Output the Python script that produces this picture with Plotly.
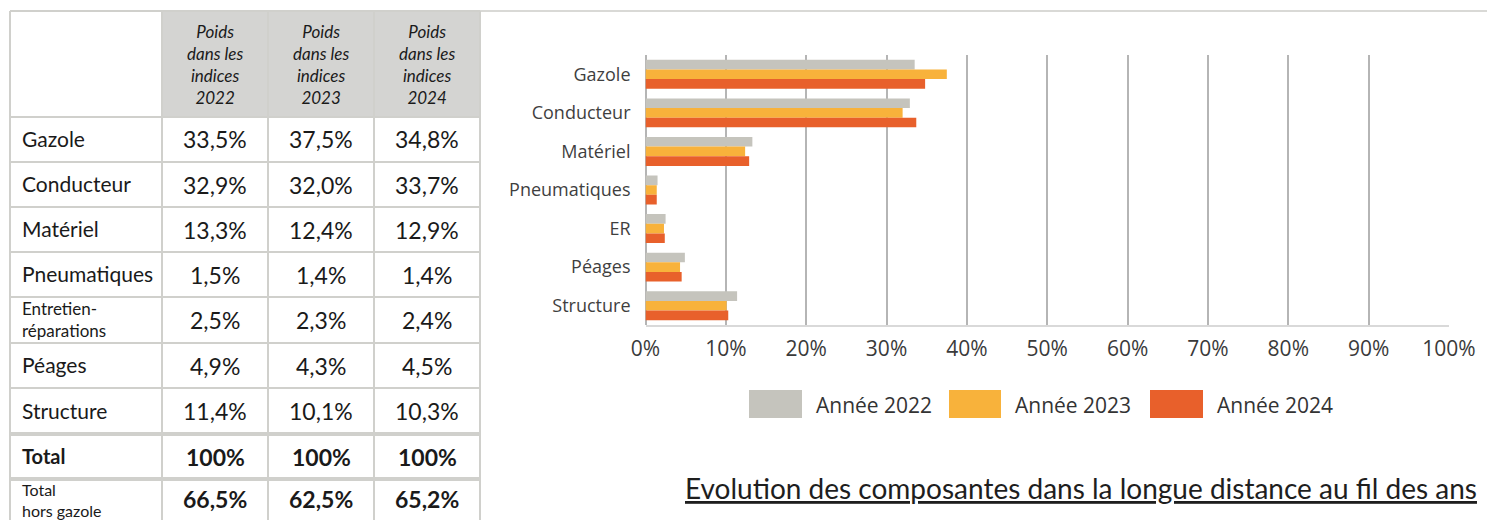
import plotly.graph_objects as go

W, H = 1487, 520

# ---------------- data ----------------
chart_categories = ["Gazole", "Conducteur", "Matériel", "Pneumatiques", "ER", "Péages", "Structure"]
table_rows = ["Gazole", "Conducteur", "Matériel", "Pneumatiques", "Entretien-<br>réparations", "Péages", "Structure"]
years = ["2022", "2023", "2024"]
w2022 = [33.5, 32.9, 13.3, 1.5, 2.5, 4.9, 11.4]
w2023 = [37.5, 32.0, 12.4, 1.4, 2.3, 4.3, 10.1]
w2024 = [34.8, 33.7, 12.9, 1.4, 2.4, 4.5, 10.3]
totals = [100, 100, 100]
hors_gazole = [66.5, 62.5, 65.2]
series_names = ["Année 2022", "Année 2023", "Année 2024"]
x_tick_values = [0, 10, 20, 30, 40, 50, 60, 70, 80, 90, 100]
x_tick_labels = ["0%", "10%", "20%", "30%", "40%", "50%", "60%", "70%", "80%", "90%", "100%"]
header_lines = ["Poids", "dans les", "indices"]
title_text = "Evolution des composantes dans la longue distance au fil des ans"

# ---------------- styles ----------------
colors = ["#c5c4bd", "#f8b23b", "#e8602b"]
TABLE_FONT = "Lato"
CHART_FONT = "Open Sans"
LINE_COL = "#d0d0cc"
HEAD_FILL = "#d4d4d2"
TXT = "#1a1a1a"


def px(x):
    return x / W


def py(y):
    return 1 - y / H


fig = go.Figure()

# ---------------- bar chart ----------------
for name, vals, col in zip(series_names, [w2022, w2023, w2024], colors):
    fig.add_trace(go.Bar(
        y=chart_categories, x=vals, name=name, orientation="h",
        marker=dict(color=col, line=dict(width=0)),
        showlegend=False, hoverinfo="x+y+name",
    ))

fig.update_layout(
    template="none",
    width=W, height=H, autosize=False,
    margin=dict(l=0, r=0, t=0, b=0, pad=0, autoexpand=False),
    paper_bgcolor="white", plot_bgcolor="white",
    showlegend=False,
    barmode="group", bargap=0.25, bargroupgap=0,
    xaxis=dict(
        domain=[px(645.5), px(1449)], range=[0, 100], automargin=False,
        tickmode="array", tickvals=x_tick_values, ticktext=x_tick_labels,
        showgrid=True, gridcolor="#b5b5b5", gridwidth=2,
        zeroline=True, zerolinecolor="#b5b5b5", zerolinewidth=2,
        showline=True, linecolor="#d9d9d9", linewidth=2,
        ticks="", ticklabelstandoff=4,
        tickfont=dict(family=CHART_FONT, size=21, color="#3a3a3a"),
        fixedrange=True,
    ),
    yaxis=dict(
        domain=[py(325), py(55)], type="category", automargin=False,
        categoryorder="array", categoryarray=chart_categories,
        autorange="reversed", showgrid=False, zeroline=False, showline=False,
        ticks="", ticklabelstandoff=14,
        tickfont=dict(family=CHART_FONT, size=18, color="#3f3f3f"),
        fixedrange=True,
    ),
)

shapes = []
annotations = []

# legend drawn as rectangles + labels
leg_rects = [(749, 802), (949, 1001), (1150, 1203)]
for (x0, x1), col, name in zip(leg_rects, colors, series_names):
    shapes.append(dict(type="rect", xref="paper", yref="paper",
                       x0=px(x0), x1=px(x1), y0=py(418), y1=py(390),
                       fillcolor=col, line=dict(width=0)))
    annotations.append(dict(xref="paper", yref="paper", x=px(x1 + 12), y=py(405),
                            xanchor="left", yanchor="middle", showarrow=False,
                            text=name, font=dict(family=CHART_FONT, size=21, color="#333333")))

# title
annotations.append(dict(xref="paper", yref="paper", x=px(1080.5), y=py(488),
                        xanchor="center", yanchor="middle", showarrow=False,
                        text="<u>" + title_text + "</u>",
                        font=dict(family=TABLE_FONT, size=28, color="#1e1e1e")))

# top rule
shapes.append(dict(type="line", xref="paper", yref="paper",
                   x0=px(10), x1=1, y0=py(11), y1=py(11),
                   line=dict(color="#d9d9d6", width=2)))

# ---------------- table ----------------
col_edges = [10, 162, 268, 374, 480]
row_edges = [117, 162, 207, 252, 297, 343, 388, 434, 479, 526]
header_top = 11

for c in range(1, 4):
    shapes.append(dict(type="rect", xref="paper", yref="paper",
                       x0=px(col_edges[c]), x1=px(col_edges[c + 1]),
                       y0=py(row_edges[0]), y1=py(header_top),
                       fillcolor=HEAD_FILL, line=dict(width=0), layer="below"))

for y in [header_top] + row_edges:
    wdt = 4 if y in (434, 479) else 2
    shapes.append(dict(type="line", xref="paper", yref="paper",
                       x0=px(col_edges[0]), x1=px(col_edges[-1]), y0=py(y), y1=py(y),
                       line=dict(color=LINE_COL, width=wdt)))
for x in col_edges:
    shapes.append(dict(type="line", xref="paper", yref="paper",
                       x0=px(x), x1=px(x), y0=py(header_top), y1=py(row_edges[-1]),
                       line=dict(color=LINE_COL, width=2)))

# header texts
for c, yr in enumerate(years):
    cx = (col_edges[c + 1] + col_edges[c + 2]) / 2
    annotations.append(dict(xref="paper", yref="paper", x=px(cx), y=py(64),
                            xanchor="center", yanchor="middle", showarrow=False,
                            align="center",
                            text="<i>" + "<br>".join(header_lines + [yr]) + "</i>",
                            font=dict(family=TABLE_FONT, size=17, color=TXT)))


def fmt(v):
    return f"{v:.1f}".replace(".", ",") + "%"


def row_center(r):
    return (row_edges[r] + row_edges[r + 1]) / 2


def col_center(c):
    return (col_edges[c + 1] + col_edges[c + 2]) / 2


def add_text(x, y, text, size, anchor="left", align="left"):
    annotations.append(dict(xref="paper", yref="paper", x=px(x), y=py(y),
                            xanchor=anchor, yanchor="middle", showarrow=False,
                            align=align,
                            text=text, font=dict(family=TABLE_FONT, size=size, color=TXT)))


series = [w2022, w2023, w2024]
for r, lab in enumerate(table_rows):
    if "<br>" in lab:
        add_text(20, row_center(r) - 1, lab, 17)
    else:
        add_text(20, row_center(r) - 1, lab, 21)
    for c in range(3):
        add_text(col_center(c), row_center(r), fmt(series[c][r]), 23, "center", "center")

r_total = len(table_rows)
add_text(20, row_center(r_total) - 1, "<b>Total</b>", 20)
for c in range(3):
    add_text(col_center(c), row_center(r_total), "<b>" + f"{totals[c]}%" + "</b>", 23, "center", "center")

add_text(20, 500, "Total<br>hors gazole", 16)
for c in range(3):
    add_text(col_center(c), 499, "<b>" + fmt(hors_gazole[c]) + "</b>", 23, "center", "center")

fig.update_layout(shapes=shapes, annotations=annotations)

post = """
document.documentElement.style.margin='0';
document.documentElement.style.padding='0';
document.documentElement.style.overflow='hidden';
document.body.style.margin='0';
document.body.style.padding='0';
document.body.style.overflow='hidden';
var gd = document.getElementById('{plot_id}');
gd.style.width='1487px'; gd.style.height='520px';
Plotly.relayout(gd, {width: 1487, height: 520, autosize: false});
"""
fig.write_html("out.html", config={"responsive": False, "displayModeBar": False}, post_script=post)
